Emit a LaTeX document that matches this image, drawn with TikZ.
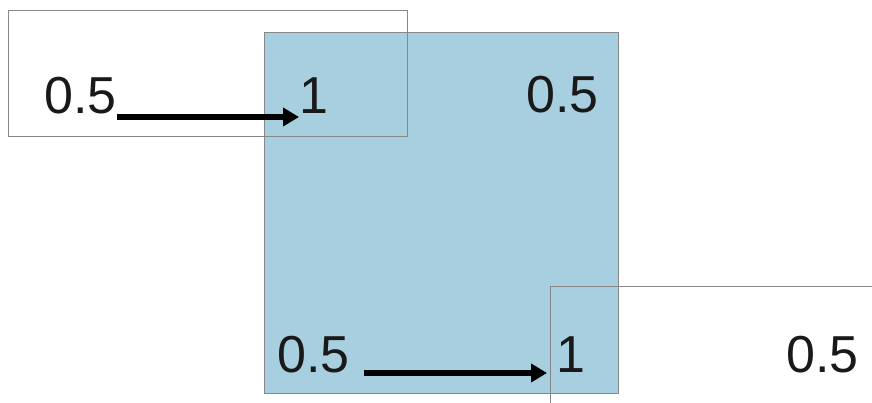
\documentclass[tikz,border=0pt]{standalone}
\usepackage{fontspec}
\setmainfont{Liberation Sans}
\usepackage{xcolor}
\usepackage{tikz}
\usetikzlibrary{arrows.meta}

\definecolor{paleblue}{RGB}{167,207,224}
\definecolor{edgegray}{RGB}{135,135,135}
\tikzset{
  val/.style={inner sep=0pt, anchor=base west, text=black!90,
    font=\fontsize{52}{60}\selectfont},
  frame/.style={draw=edgegray, line width=1pt},
  shiftarrow/.style={line width=5.5pt, -{Triangle[length=16pt,width=18pt]}}
}

\begin{document}
\begin{tikzpicture}[x=1pt,y=-1pt]
\useasboundingbox (0,0) rectangle (872,403);
\draw[frame, fill=paleblue] (264,33) rectangle (618,393);
\draw[frame] (8,11) rectangle (407,137);
\draw[frame] (550,286) rectangle (880,410);
% top row
\node[val] (a05) at (44,114) {0.5};
\node[val] (a1) at (299,114) {1};
\node[val] (b05) at (526,113) {0.5};
\draw[shiftarrow] ([yshift=-3pt]a05.base east) -- ([yshift=-3pt]a1.base west);
% bottom row
\node[val] (c05) at (277,372) {0.5};
\node[val] (c1) at (556,372) {1};
\node[val] (d05) at (786,372) {0.5};
\draw[shiftarrow] ([xshift=14pt,yshift=-1pt]c05.base east) -- ([xshift=-9pt,yshift=-1pt]c1.base west);
\end{tikzpicture}
\end{document}
